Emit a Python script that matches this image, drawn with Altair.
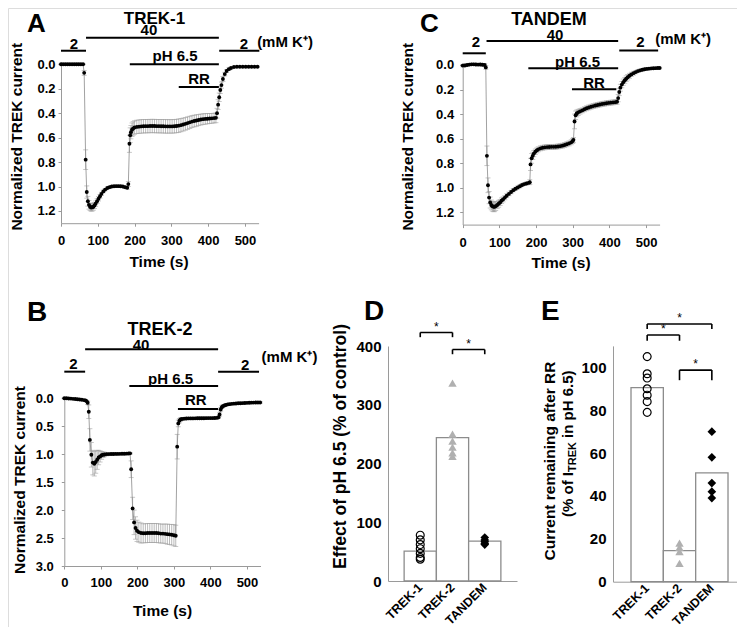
import altair as alt
import pandas as pd

FONT = "Liberation Sans"
W, H = 729, 619
AXC = "#9a9a9a"

# ---------------- time-course data (A: TREK-1) ----------------
t_a = [0, 6, 12, 18, 24, 30, 36, 42, 48, 54, 60,
       63, 67, 70, 73, 76, 79, 82, 85, 88, 91, 94, 98, 102, 106, 110, 115, 120, 126, 132, 138, 144, 150, 156, 162, 168, 174, 180,
       183, 186, 188, 190, 193, 196, 200,
       206, 212, 218, 224, 230, 236, 242, 248, 254, 260, 266, 272, 278, 284, 290, 296, 302, 308, 314, 320,
       326, 332, 338, 344, 350, 356, 362, 368, 374, 380, 386, 392, 398, 404, 410, 416, 421,
       424, 427, 430, 433, 436, 440, 445, 450, 456, 462, 470, 478, 486, 494, 502, 510, 518, 526, 534]
y_a = [0.0, 0.0, 0.0, 0.0, 0.0, 0.0, 0.0, 0.0, 0.0, 0.0, 0.0,
       0.07, 0.78, 1.045, 1.12, 1.15, 1.165, 1.172, 1.17, 1.165, 1.155, 1.14, 1.12, 1.10, 1.08, 1.06, 1.04, 1.025, 1.012, 1.005, 1.0, 0.998, 0.997, 0.997, 0.998, 1.0, 1.005, 1.01,
       0.98, 0.65, 0.58, 0.555, 0.535, 0.525, 0.517,
       0.512, 0.51, 0.508, 0.507, 0.506, 0.506, 0.505, 0.505, 0.505, 0.506, 0.506, 0.507, 0.507, 0.508, 0.508, 0.508, 0.508, 0.507, 0.505, 0.502,
       0.498, 0.493, 0.487, 0.481, 0.475, 0.469, 0.464, 0.46, 0.456, 0.452, 0.449, 0.447, 0.445, 0.443, 0.442, 0.44, 0.438,
       0.40, 0.33, 0.27, 0.21, 0.17, 0.12, 0.08, 0.055, 0.04, 0.03, 0.022, 0.02, 0.02, 0.02, 0.02, 0.02, 0.02, 0.02, 0.02]
e_a = [0.004, 0.004, 0.004, 0.004, 0.004, 0.004, 0.004, 0.004, 0.004, 0.004, 0.004,
       0.02, 0.08, 0.05, 0.04, 0.035, 0.03, 0.03, 0.03, 0.028, 0.025, 0.022, 0.02, 0.018, 0.015, 0.013, 0.011, 0.01, 0.009, 0.008, 0.008, 0.008, 0.008, 0.008, 0.008, 0.008, 0.01, 0.012,
       0.02, 0.07, 0.06, 0.055, 0.055, 0.055, 0.055,
       0.055, 0.055, 0.055, 0.055, 0.055, 0.055, 0.055, 0.055, 0.055, 0.055, 0.055, 0.055, 0.055, 0.055, 0.055, 0.055, 0.055, 0.055, 0.055, 0.055,
       0.054, 0.053, 0.052, 0.051, 0.05, 0.049, 0.048, 0.047, 0.046, 0.045, 0.044, 0.043, 0.042, 0.041, 0.04, 0.04, 0.04,
       0.04, 0.04, 0.035, 0.03, 0.025, 0.02, 0.015, 0.012, 0.01, 0.008, 0.006, 0.005, 0.005, 0.005, 0.005, 0.005, 0.005, 0.005, 0.005]

# ---------------- time-course data (C: TANDEM) ----------------
t_c = [0, 6, 12, 18, 24, 30, 36, 42, 48, 54, 60,
       63, 66, 69, 72, 75, 78, 81, 84, 87, 90, 94, 98, 102, 106, 110, 115, 120, 126, 132, 138, 144, 150, 156, 162, 168, 174, 180,
       183, 185, 188, 191, 194, 198, 202, 206, 212, 218, 224, 230, 236, 242, 248, 254, 260, 266, 272, 278, 284, 290, 296, 300,
       302, 305, 308, 311, 315, 320, 326, 332, 338, 344, 350, 356, 362, 368, 374, 380, 386, 392, 398, 404, 410, 416, 421,
       424, 427, 430, 434, 438, 442, 446, 450, 455, 460, 466, 472, 478, 484, 490, 496, 502, 508, 514, 520, 526, 532, 537]
y_c = [0.005, 0.004, 0.0, -0.003, -0.005, -0.005, -0.004, -0.003, -0.004, -0.002, 0.0,
       0.02, 0.74, 0.98, 1.08, 1.12, 1.14, 1.15, 1.155, 1.155, 1.15, 1.14, 1.13, 1.12, 1.105, 1.095, 1.08, 1.065, 1.05, 1.035, 1.02, 1.008, 0.998, 0.988, 0.978, 0.97, 0.965, 0.96,
       0.955, 0.81, 0.76, 0.74, 0.722, 0.707, 0.696, 0.687, 0.679, 0.674, 0.671, 0.669, 0.668, 0.667, 0.667, 0.666, 0.664, 0.661, 0.657, 0.652, 0.646, 0.639, 0.63, 0.62,
       0.61, 0.46, 0.41, 0.395, 0.386, 0.378, 0.37, 0.361, 0.353, 0.346, 0.34, 0.335, 0.33, 0.326, 0.322, 0.318, 0.315, 0.312, 0.309, 0.307, 0.305, 0.303, 0.30,
       0.27, 0.22, 0.185, 0.16, 0.14, 0.125, 0.112, 0.1, 0.088, 0.077, 0.067, 0.058, 0.05, 0.044, 0.039, 0.035, 0.032, 0.03, 0.028, 0.027, 0.026, 0.025, 0.025]
e_c = [0.01, 0.01, 0.01, 0.01, 0.01, 0.01, 0.01, 0.01, 0.01, 0.01, 0.01,
       0.015, 0.08, 0.06, 0.05, 0.045, 0.04, 0.04, 0.04, 0.04, 0.035, 0.03, 0.028, 0.025, 0.022, 0.02, 0.018, 0.016, 0.015, 0.014, 0.013, 0.012, 0.012, 0.012, 0.012, 0.012, 0.012, 0.012,
       0.02, 0.05, 0.04, 0.03, 0.025, 0.022, 0.02, 0.02, 0.02, 0.02, 0.02, 0.02, 0.02, 0.02, 0.02, 0.02, 0.02, 0.02, 0.02, 0.02, 0.02, 0.02, 0.02, 0.02,
       0.02, 0.06, 0.035, 0.028, 0.025, 0.022, 0.02, 0.02, 0.02, 0.02, 0.02, 0.02, 0.02, 0.02, 0.02, 0.02, 0.02, 0.02, 0.02, 0.02, 0.02, 0.02, 0.02,
       0.03, 0.03, 0.028, 0.026, 0.025, 0.024, 0.023, 0.022, 0.02, 0.018, 0.016, 0.014, 0.012, 0.011, 0.01, 0.009, 0.008, 0.008, 0.007, 0.007, 0.006, 0.006, 0.006]

# ---------------- time-course data (B: TREK-2) ----------------
t_b = [0, 6, 12, 18, 24, 30, 36, 42, 48, 54, 58, 61,
       64, 67, 70, 74, 78, 82, 86, 90, 94, 98, 102, 106, 110, 116, 122, 128, 134, 140, 146, 152, 158, 164, 170, 176, 180,
       183, 187, 191, 195, 199, 204, 210, 216, 222, 228, 234, 240, 246, 252, 258, 264, 270, 276, 282, 288, 294, 300, 305,
       309, 312, 315, 318, 322, 328, 334, 340, 346, 352, 358, 364, 370, 376, 382, 388, 394, 400, 406, 412, 418, 422,
       425, 428, 431, 434, 438, 442, 447, 452, 458, 464, 470, 476, 482, 488, 494, 500, 506, 512, 518, 524, 530, 536]
y_b = [0.0, 0.0, 0.003, 0.006, 0.01, 0.014, 0.018, 0.022, 0.027, 0.032, 0.04, 0.05,
       0.08, 0.24, 0.745, 1.01, 1.15, 1.17, 1.14, 1.1, 1.06, 1.04, 1.02, 1.01, 1.005, 1.0, 0.998, 0.997, 0.996, 0.995, 0.995, 0.994, 0.993, 0.992, 0.99, 0.988, 0.985,
       1.27, 1.97, 2.22, 2.32, 2.37, 2.395, 2.41, 2.415, 2.415, 2.41, 2.41, 2.41, 2.41, 2.41, 2.415, 2.42, 2.42, 2.425, 2.43, 2.435, 2.44, 2.45, 2.46,
       0.865, 0.45, 0.40, 0.38, 0.37, 0.365, 0.362, 0.36, 0.36, 0.36, 0.359, 0.358, 0.358, 0.357, 0.357, 0.356, 0.355, 0.355, 0.354, 0.353, 0.35, 0.34,
       0.29, 0.2, 0.16, 0.14, 0.13, 0.12, 0.11, 0.105, 0.1, 0.096, 0.093, 0.09, 0.088, 0.086, 0.084, 0.082, 0.08, 0.078, 0.077, 0.076, 0.075, 0.075]
e_b = [0.01, 0.01, 0.01, 0.01, 0.01, 0.01, 0.01, 0.01, 0.01, 0.01, 0.01, 0.01,
       0.03, 0.12, 0.2, 0.22, 0.22, 0.22, 0.2, 0.17, 0.13, 0.1, 0.07, 0.05, 0.04, 0.03, 0.02, 0.02, 0.015, 0.015, 0.015, 0.015, 0.015, 0.015, 0.015, 0.015, 0.015,
       0.15, 0.2, 0.22, 0.2, 0.19, 0.18, 0.18, 0.17, 0.17, 0.17, 0.17, 0.17, 0.17, 0.17, 0.17, 0.17, 0.17, 0.175, 0.18, 0.18, 0.185, 0.19, 0.19,
       0.22, 0.06, 0.04, 0.03, 0.025, 0.02, 0.02, 0.02, 0.02, 0.02, 0.02, 0.02, 0.02, 0.02, 0.02, 0.02, 0.02, 0.02, 0.02, 0.02, 0.02, 0.02,
       0.03, 0.03, 0.025, 0.02, 0.018, 0.016, 0.015, 0.015, 0.015, 0.015, 0.015, 0.015, 0.015, 0.015, 0.015, 0.015, 0.015, 0.015, 0.015, 0.015, 0.015, 0.015]

x_ticks = [0, 100, 200, 300, 400, 500]
y_ticks_ac = [0.0, 0.2, 0.4, 0.6, 0.8, 1.0, 1.2]
y_ticks_b = [0.0, 0.5, 1.0, 1.5, 2.0, 2.5, 3.0]

# solution bars (time from, time to, level) and their labels
sol_labels = ["2", "40", "pH 6.5", "RR", "2"]
a_sol_x1 = [0, 68, 187, 320, 430]
a_sol_x2 = [68, 429, 429, 429, 539]
a_sol_y = [-0.111, -0.218, 0.0, 0.186, -0.111]
a_lab_x = [35, 239, 310, 375, 497]
a_lab_y = [-0.17, -0.28, -0.068, 0.12, -0.17]

c_sol_x1 = [0, 65, 179, 298, 427]
c_sol_x2 = [63, 424, 424, 419, 533]
c_sol_y = [-0.095, -0.196, 0.027, 0.198, -0.117]
c_lab_x = [36, 252, 313, 358, 485]
c_lab_y = [-0.19, -0.244, -0.027, 0.143, -0.19]

b_sol_x1 = [0, 57, 178, 311, 421]
b_sol_x2 = [57, 421, 421, 421, 533]
b_sol_y = [-0.476, -0.876, -0.22, 0.19, -0.476]
b_lab_x = [25, 210, 291, 360, 495]
b_lab_y = [-0.617, -0.96, -0.35, 0.03, -0.6]

# ---------------- bar panels ----------------
cats = ["TREK-1", "TREK-2", "TANDEM"]
d_bars = [51, 244, 68]
d_trek1 = [78, 70, 62, 55, 47, 40, 37]
d_trek2 = [337, 250, 238, 228, 218, 212]
d_tandem = [74, 70, 67, 64, 62]
d_br_c1 = ["TREK-1", "TREK-2"]
d_br_c2 = ["TREK-2", "TANDEM"]
d_br_y = [423, 394]
d_br_low = [415, 386]
d_star_c = ["TREK-1", "TREK-2"]
d_star_y = [426, 397]

e_bars = [90.5, 14.5, 50.8]
e_trek1 = [105, 97, 95, 90, 87, 84, 79]
e_trek2 = [18, 16, 14, 8.5]
e_tandem = [70, 58, 46, 42, 39]
e_br_c1 = ["TREK-1", "TREK-1", "TREK-2"]
e_br_c2 = ["TREK-2", "TANDEM", "TANDEM"]
e_br_y = [115.1, 120.2, 98.7]
e_br_low = [112.4, 117.9, 94.0]
e_star_edge_c = ["TREK-1", "TREK-2"]
e_star_edge_y = [116.0, 99.6]
e_star_mid_c = ["TREK-2"]
e_star_mid_y = [121.1]

ONE = pd.DataFrame({"k": [0]})


def make_axis(**kw):
    base = dict(title=None, grid=False, domainColor=AXC, tickColor=AXC, tickSize=3,
                labelFont=FONT, labelFontWeight="bold", labelColor="black",
                labelFlush=False, labelFontSize=13)
    base.update(kw)
    return alt.Axis(**base)


def time_panel(t, y, e, xr, yr, ydom, yticks, xoff, yoff, xpad, ypad,
               sx1, sx2, sy_, lx, ly, unit_x, unit_y):
    sx = alt.Scale(domain=[0, 537], range=xr, nice=False, zero=False)
    sy = alt.Scale(domain=ydom, range=yr, nice=False, zero=False)
    xax = make_axis(orient="bottom", offset=xoff, values=x_ticks, labelPadding=xpad)
    yax = make_axis(orient="left", offset=yoff, values=yticks, format=".1f", labelPadding=ypad)
    df = pd.DataFrame({"t": t, "y": y, "e": e})
    df["lo"] = df["y"] - df["e"]
    df["hi"] = df["y"] + df["e"]
    base = alt.Chart(df)

    def X(f):
        return alt.X(f + ":Q", scale=sx, axis=xax)

    def Y(f):
        return alt.Y(f + ":Q", scale=sy, axis=yax)

    err = base.mark_rule(color="#a8a8a8", strokeWidth=0.8).encode(x=X("t"), y=Y("lo"), y2="hi:Q")
    cap1 = base.mark_tick(color="#9c9c9c", orient="horizontal", size=5, thickness=0.8).encode(x=X("t"), y=Y("lo"))
    cap2 = base.mark_tick(color="#9c9c9c", orient="horizontal", size=5, thickness=0.8).encode(x=X("t"), y=Y("hi"))
    line = base.mark_line(color="#8a8a8a", strokeWidth=0.8).encode(x=X("t"), y=Y("y"))
    pts = base.mark_circle(color="black", size=15, opacity=1).encode(x=X("t"), y=Y("y"))
    sol = pd.DataFrame({"x1": sx1, "x2": sx2, "y": sy_})
    solr = alt.Chart(sol).mark_rule(color="black", strokeWidth=2, clip=False).encode(
        x=X("x1"), x2="x2:Q", y=Y("y"))
    labs = pd.DataFrame({"lab": sol_labels, "x": lx, "y": ly})
    labt = alt.Chart(labs).mark_text(font=FONT, fontSize=15, fontWeight="bold", baseline="middle",
                                     color="black", clip=False).encode(x=X("x"), y=Y("y"), text="lab:N")
    unit = alt.Chart(pd.DataFrame({"x": [unit_x], "y": [unit_y], "lab": ["(mM K\u207a)"]})).mark_text(
        font=FONT, fontSize=15, fontWeight="bold", baseline="middle", align="left", color="black",
        clip=False).encode(x=X("x"), y=Y("y"), text="lab:N")
    return alt.layer(err, cap1, cap2, line, pts, solr, labt, unit)


def bar_panel(bars, g1, g2, g3, xr, pad_outer, align, yr, ydom, yticks, xoff, yoff,
              br_c1, br_c2, br_y, br_low, star_edge_c, star_edge_y, star_mid_c, star_mid_y):
    sx = alt.Scale(domain=cats, range=xr, paddingInner=0, paddingOuter=pad_outer, align=align)
    sy = alt.Scale(domain=ydom, range=yr, nice=False, zero=False)
    xax = make_axis(orient="bottom", offset=xoff, labelAngle=315, ticks=False, labelPadding=4,
                    labelFontSize=12.5, labelAlign="right", labelBaseline="middle")
    yax = make_axis(orient="left", offset=yoff, values=yticks, ticks=False, labelPadding=7,
                    labelFontSize=15)

    def X(f, bp=0.5):
        return alt.X(f + ":N", scale=sx, axis=xax, bandPosition=bp)

    def Y(f):
        return alt.Y(f + ":Q", scale=sy, axis=yax)

    bdf = pd.DataFrame({"c": cats, "v": bars})
    barm = alt.Chart(bdf).mark_bar(fill="white", stroke="#8c8c8c", strokeWidth=1.3).encode(
        x=alt.X("c:N", scale=sx, axis=xax), y=Y("v"), y2=alt.datum(0))
    p1 = alt.Chart(pd.DataFrame({"c": ["TREK-1"] * len(g1), "v": g1})).mark_point(
        shape="circle", filled=False, color="black", size=62, strokeWidth=1.2, opacity=1).encode(x=X("c"), y=Y("v"))
    p2 = alt.Chart(pd.DataFrame({"c": ["TREK-2"] * len(g2), "v": g2})).mark_point(
        shape="triangle-up", filled=True, color="#b0b0b0", size=70, opacity=1).encode(x=X("c"), y=Y("v"))
    p3 = alt.Chart(pd.DataFrame({"c": ["TANDEM"] * len(g3), "v": g3})).mark_point(
        shape="diamond", filled=True, color="black", size=75, opacity=1).encode(x=X("c"), y=Y("v"))
    br = pd.DataFrame({"c1": br_c1, "c2": br_c2, "y": br_y})
    brr = alt.Chart(br).mark_rule(color="black", strokeWidth=1.6).encode(
        x=X("c1"), x2=alt.X2("c2:N", bandPosition=0.5), y=Y("y"))
    tk = pd.DataFrame({"c": br_c1 + br_c2, "y": br_y + br_y, "lo": br_low + br_low})
    tkr = alt.Chart(tk).mark_rule(color="black", strokeWidth=1.6).encode(x=X("c"), y=Y("y"), y2="lo:Q")
    s1 = alt.Chart(pd.DataFrame({"c": star_edge_c, "y": star_edge_y})).mark_text(
        text="*", font=FONT, fontSize=12, color="black", baseline="alphabetic").encode(x=X("c", 1.0), y=Y("y"))
    layers = [barm, p1, p2, p3, brr, tkr, s1]
    if star_mid_c:
        s2 = alt.Chart(pd.DataFrame({"c": star_mid_c, "y": star_mid_y})).mark_text(
            text="*", font=FONT, fontSize=12, color="black", baseline="alphabetic").encode(x=X("c", 0.5), y=Y("y"))
        layers.append(s2)
    return alt.layer(*layers)


def label(text, x, y, size, angle=0, align="center", baseline="alphabetic"):
    return alt.Chart(ONE).mark_text(text=text, font=FONT, fontSize=size, fontWeight="bold",
                                    angle=angle, align=align, baseline=baseline,
                                    color="black").encode(x=alt.value(x), y=alt.value(y))


panelA = time_panel(t_a, y_a, e_a, [53, 250.6], [53.85, 215.2], [-0.02, 1.3], y_ticks_ac,
                    215.2 - H, -53, 8, 3, a_sol_x1, a_sol_x2, a_sol_y, a_lab_x, a_lab_y, 533, -0.18)
panelC = time_panel(t_c, y_c, e_c, [454.7, 651.6], [54.5, 216.6], [-0.02, 1.3], y_ticks_ac,
                    216.6 - H, -454.7, 9, 6, c_sol_x1, c_sol_x2, c_sol_y, c_lab_x, c_lab_y, 525, -0.21)
panelB = time_panel(t_b, y_b, e_b, [56.3, 252.5], [388.6, 558], [-0.03, 3.0], y_ticks_b,
                    558 - H, -56.3, 7, 8, b_sol_x1, b_sol_x2, b_sol_y, b_lab_x, b_lab_y, 540, -0.73)
panelD = bar_panel(d_bars, d_trek1, d_trek2, d_tandem, [380, 509], 0.5, 0.5, [573, 338], [0, 400],
                   [0, 100, 200, 300, 400], 573 - H, -380,
                   d_br_c1, d_br_c2, d_br_y, d_br_low, d_star_c, d_star_y, [], [])
panelE = bar_panel(e_bars, e_trek1, e_trek2, e_tandem, [605, 729], 0.4175, 0.667, [573.7, 337.9], [0, 110],
                   [0, 20, 40, 60, 80, 100], 573.7 - H, -605,
                   e_br_c1, e_br_c2, e_br_y, e_br_low, e_star_edge_c, e_star_edge_y, e_star_mid_c, e_star_mid_y)

texts = [
    label("A", 19, 23.6, 26, align="left"),
    label("TREK-1", 146.5, 15.5, 17),
    label("C", 412, 23.6, 26, align="left"),
    label("TANDEM", 541, 16.5, 18),
    label("B", 19, 313, 28, align="left"),
    label("TREK-2", 152, 327, 18),
    label("D", 356, 312, 28, align="left"),
    label("E", 533, 312, 28, align="left"),
    label("Normalized TREK current", 9, 128.7, 15.5, angle=270, baseline="middle"),
    label("Time (s)", 151, 254, 15.5, baseline="middle"),
    label("Normalized TREK current", 400, 128.7, 15.5, angle=270, baseline="middle"),
    label("Time (s)", 553, 255, 15.5, baseline="middle"),
    label("Normalized TREK current", 12, 472, 15.5, angle=270, baseline="middle"),
    label("Time (s)", 154.5, 603, 15.5, baseline="middle"),
    label("Effect of pH 6.5 (% of control)", 333, 438.5, 17.5, angle=270, baseline="middle"),
    label("Current remaining after RR", 542, 453, 15.5, angle=270, baseline="middle"),
    label("(% of I", 560, 509, 15, angle=270, align="left", baseline="middle"),
    label("TREK", 564.5, 464, 11, angle=270, align="left", baseline="middle"),
    label("in pH 6.5)", 560, 430, 15, angle=270, align="left", baseline="middle"),
]

chart = alt.layer(panelA, panelC, panelB, panelD, panelE, *texts).resolve_scale(
    x="independent", y="independent").resolve_axis(x="independent", y="independent").properties(
    width=W, height=H, padding=0, autosize=alt.AutoSizeParams(type="none")).configure_view(
    stroke=None).configure(font=FONT)

chart.save("out.html", embed_options={"renderer": "svg", "actions": False})
